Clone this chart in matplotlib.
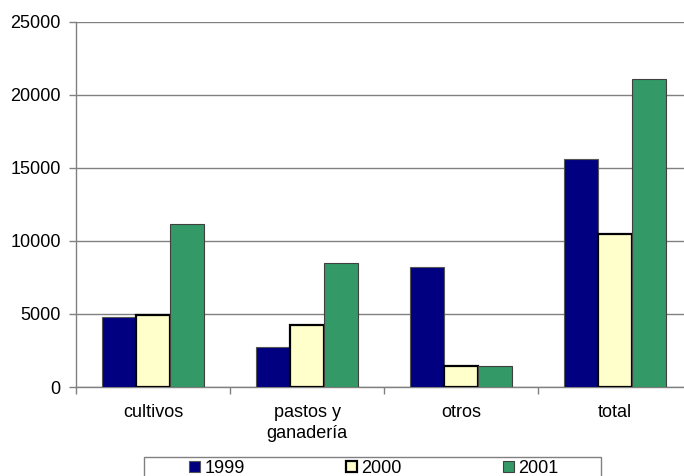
import matplotlib
matplotlib.use("Agg")
import matplotlib.pyplot as plt
from matplotlib.patches import Rectangle
import numpy as np

plt.rcParams['font.family'] = ['Liberation Sans', 'DejaVu Sans']

categories = ["cultivos", "pastos y\nganadería", "otros", "total"]
series_names = ["1999", "2000", "2001"]
v1999 = [4800, 2750, 8200, 15650]
v2000 = [4930, 4220, 1420, 10480]
v2001 = [11150, 8500, 1450, 21100]
yticks = [0, 5000, 10000, 15000, 20000, 25000]

colors = ["#000080", "#FFFFCC", "#339966"]
edges = ["#555555", "#000000", "#404040"]
lws = [0.8, 1.6, 0.8]

FS = 13

fig = plt.figure(figsize=(6.84, 4.76), dpi=100)
ax = fig.add_axes([76/684, 1-387/476, (692-76)/684, (387-22)/476])

x = np.arange(len(categories))
w = 0.22
for i, (vals, name) in enumerate(zip([v1999, v2000, v2001], series_names)):
    ax.bar(x + (i-1)*w, vals, width=w, color=colors[i], edgecolor=edges[i],
           linewidth=lws[i], label=name, zorder=3)

ax.set_xlim(-0.5, len(categories)-0.5)
ax.set_ylim(0, 25000)
ax.set_yticks(yticks)
ax.set_yticklabels([str(t) for t in yticks], fontsize=FS)
ax.yaxis.grid(True, color="#808080", linewidth=1)
ax.set_axisbelow(True)

ax.set_xticks(x)
ax.set_xticklabels(categories, fontsize=FS, linespacing=1.3)
ax.set_xticks(np.arange(len(categories)+1)-0.5, minor=True)
ax.tick_params(axis='x', which='major', length=0, pad=12)
ax.tick_params(axis='x', which='minor', length=5, color="#808080", width=1, direction='out')
ax.tick_params(axis='y', length=5, color="#808080", width=1, pad=6)

for s in ['top', 'right']:
    ax.spines[s].set_visible(False)
for s in ['left', 'bottom']:
    ax.spines[s].set_color("#808080")
    ax.spines[s].set_linewidth(1)

# legend box
bx0, bx1, by0 = 144, 601, 457
fig.patches.append(Rectangle((bx0/684, -0.05), (bx1-bx0)/684, 1-by0/476+0.05,
                             transform=fig.transFigure, facecolor='white',
                             edgecolor="#808080", linewidth=1, zorder=1))
leg = fig.legend(loc='upper center', bbox_to_anchor=(374/684, 1-458/476),
                 ncol=3, fontsize=FS, frameon=False,
                 handlelength=0.6, handleheight=0.6, handletextpad=0.25,
                 columnspacing=5.6, borderaxespad=0, borderpad=0.1)
leg.set_zorder(5)

fig.savefig("out.png", dpi=100)
